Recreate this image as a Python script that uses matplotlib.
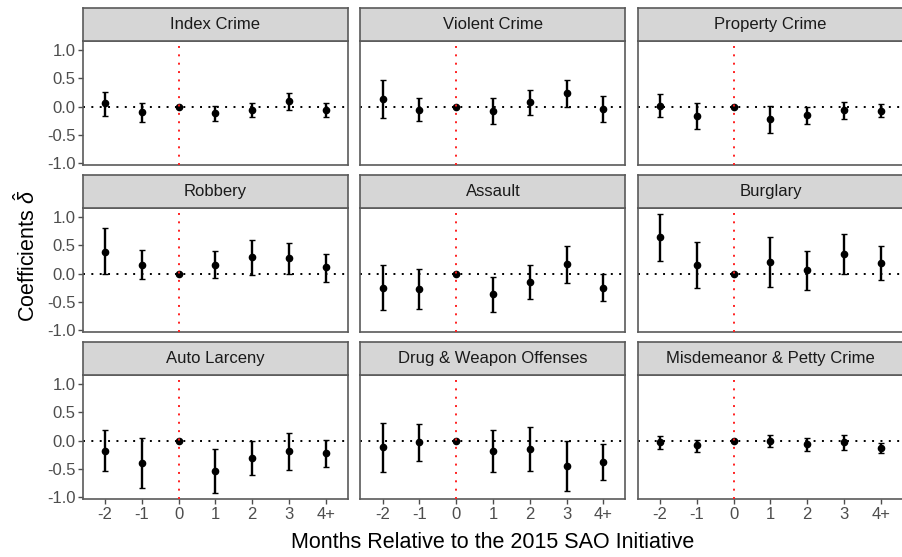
import matplotlib
matplotlib.use('Agg')
import matplotlib.pyplot as plt
import numpy as np

plt.rcParams['font.family'] = ['Liberation Sans', 'DejaVu Sans']
plt.rcParams['mathtext.fontset'] = 'custom'
plt.rcParams['mathtext.rm'] = 'Liberation Sans'
plt.rcParams['mathtext.it'] = 'Liberation Sans:italic'

months = ['-2', '-1', '0', '1', '2', '3', '4+']
panel_titles = ['Index Crime', 'Violent Crime', 'Property Crime',
                'Robbery', 'Assault', 'Burglary',
                'Auto Larceny', 'Drug & Weapon Offenses', 'Misdemeanor & Petty Crime']

index_est = [0.06, -0.10, 0.0, -0.12, -0.06, 0.10, -0.06]
index_lo = [-0.16, -0.27, 0.0, -0.25, -0.19, -0.06, -0.18]
index_hi = [0.26, 0.07, 0.0, 0.02, 0.07, 0.24, 0.06]

violent_est = [0.14, -0.05, 0.0, -0.07, 0.08, 0.25, -0.04]
violent_lo = [-0.20, -0.25, 0.0, -0.31, -0.14, -0.01, -0.27]
violent_hi = [0.47, 0.16, 0.0, 0.15, 0.30, 0.48, 0.18]

property_est = [0.01, -0.17, 0.0, -0.22, -0.15, -0.06, -0.08]
property_lo = [-0.19, -0.40, 0.0, -0.46, -0.31, -0.22, -0.19]
property_hi = [0.22, 0.06, 0.0, 0.02, -0.01, 0.09, 0.04]

robbery_est = [0.39, 0.16, 0.0, 0.16, 0.29, 0.28, 0.11]
robbery_lo = [-0.01, -0.09, 0.0, -0.08, -0.02, 0.0, -0.14]
robbery_hi = [0.81, 0.42, 0.0, 0.40, 0.59, 0.55, 0.34]

assault_est = [-0.25, -0.27, 0.0, -0.36, -0.15, 0.17, -0.25]
assault_lo = [-0.65, -0.62, 0.0, -0.67, -0.45, -0.16, -0.49]
assault_hi = [0.15, 0.08, 0.0, -0.05, 0.15, 0.49, 0.0]

burglary_est = [0.64, 0.15, 0.0, 0.20, 0.06, 0.34, 0.19]
burglary_lo = [0.22, -0.25, 0.0, -0.24, -0.29, -0.01, -0.12]
burglary_hi = [1.06, 0.56, 0.0, 0.64, 0.40, 0.70, 0.49]

auto_est = [-0.18, -0.39, 0.0, -0.54, -0.30, -0.19, -0.22]
auto_lo = [-0.54, -0.83, 0.0, -0.93, -0.60, -0.52, -0.47]
auto_hi = [0.19, 0.04, 0.0, -0.15, 0.0, 0.13, 0.02]

drug_est = [-0.11, -0.02, 0.0, -0.18, -0.15, -0.44, -0.37]
drug_lo = [-0.55, -0.36, 0.0, -0.56, -0.54, -0.89, -0.70]
drug_hi = [0.32, 0.30, 0.0, 0.19, 0.24, 0.0, -0.05]

misd_est = [-0.03, -0.08, 0.0, -0.01, -0.06, -0.02, -0.13]
misd_lo = [-0.15, -0.20, 0.0, -0.11, -0.18, -0.17, -0.22]
misd_hi = [0.09, 0.02, 0.0, 0.10, 0.04, 0.10, -0.04]

series = [
    (index_est, index_lo, index_hi),
    (violent_est, violent_lo, violent_hi),
    (property_est, property_lo, property_hi),
    (robbery_est, robbery_lo, robbery_hi),
    (assault_est, assault_lo, assault_hi),
    (burglary_est, burglary_lo, burglary_hi),
    (auto_est, auto_lo, auto_hi),
    (drug_est, drug_lo, drug_hi),
    (misd_est, misd_lo, misd_hi),
]

yticks = [-1.0, -0.5, 0.0, 0.5, 1.0]

W, H = 903, 557
fig = plt.figure(figsize=(W / 100, H / 100), dpi=100)
fig.patch.set_facecolor('white')

col_left = [83, 360.5, 638]
pw = 265
plot_top0 = 41
ph = 124
row_pitch = 167
strip_h = 33

border = '#5a5a5a'
tickc = '#4D4D4D'
dots = (0, (1, 3.3))

for i, (title, (est, lo, hi)) in enumerate(zip(panel_titles, series)):
    r, c = divmod(i, 3)
    left = col_left[c]
    top = plot_top0 + row_pitch * r
    ax = fig.add_axes([left / W, 1 - (top + ph) / H, pw / W, ph / H])
    sax = fig.add_axes([left / W, 1 - top / H, pw / W, strip_h / H])

    x = np.arange(len(months))
    est = np.array(est)
    lo = np.array(lo)
    hi = np.array(hi)
    ax.axhline(0, color='black', ls=dots, lw=1.4, zorder=1)
    ax.errorbar(x, est, yerr=[est - lo, hi - est], fmt='o', color='black',
                ms=4.5, elinewidth=1.7, capsize=2.2, capthick=1.0, zorder=3)
    ax.axvline(x[months.index('0')], color='#ff2020', ls=dots, lw=1.4, zorder=4)

    ax.set_xlim(-0.6, len(months) - 0.4)
    ax.set_ylim(-1.03, 1.16)
    ax.set_xticks(x)
    ax.set_yticks(yticks)
    ax.set_facecolor('white')
    for sp in ax.spines.values():
        sp.set_color(border)
        sp.set_linewidth(1.2)
    ax.tick_params(colors=tickc, labelcolor=tickc, labelsize=12, length=3.5,
                   width=1.0, pad=2)
    if c == 0:
        ax.set_yticklabels([f'{v:.1f}' for v in yticks])
    else:
        ax.tick_params(axis='y', left=False, labelleft=False)
    if r == 2:
        ax.set_xticklabels(months)
    else:
        ax.tick_params(axis='x', bottom=False, labelbottom=False)

    sax.set_facecolor('#D6D6D6')
    sax.set_xticks([])
    sax.set_yticks([])
    for sp in sax.spines.values():
        sp.set_color(border)
        sp.set_linewidth(1.2)
    sax.text(0.5, 0.5, title, ha='center', va='center', fontsize=12,
             color='#1A1A1A', transform=sax.transAxes)

fig.text(493 / W, 1 - 542 / H, 'Months Relative to the 2015 SAO Initiative',
         ha='center', va='center', fontsize=15.5, color='black')
fig.text(27 / W, 1 - 256 / H, 'Coefficients ' + r'$\hat{\delta}$',
         ha='center', va='center', rotation=90, fontsize=15.5, color='black')

fig.savefig('out.png', dpi=100)
